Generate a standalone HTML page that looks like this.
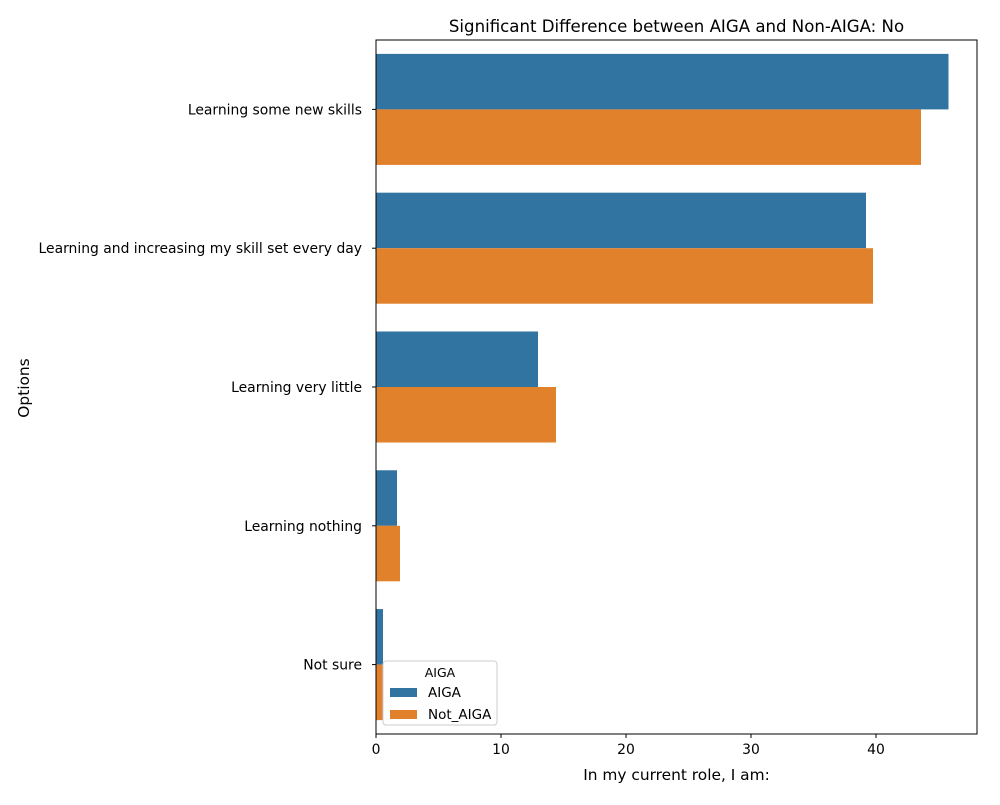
<!DOCTYPE html>
<html><head><meta charset="utf-8"><style>
body{margin:0;background:#fff;font-family:"Liberation Sans","DejaVu Sans",sans-serif}
text{font-family:"DejaVu Sans","Liberation Sans",sans-serif}
</style></head><body>
<svg id="chart" width="1000" height="800" xmlns="http://www.w3.org/2000/svg">
<rect width="1000" height="800" fill="#fff"/>
<g id="plot"></g>
</svg>
<script>
const categories=["Learning some new skills","Learning and increasing my skill set every day","Learning very little","Learning nothing","Not sure"];
const aigaValues=[45.8,39.2,12.96,1.68,0.56];
const notAigaValues=[43.6,39.76,14.4,1.92,0.56];
const xTicks=[0,10,20,30,40];
const L=376,R=977,T=40,B=734,xMax=48.08;
const ns="http://www.w3.org/2000/svg";
const g=document.getElementById('plot');
function x(v){return L+v/xMax*(R-L);}
const band=(B-T)/categories.length;
function yc(i){return T+band*(i+0.5);}
function mk(tag,attrs,txt){const e=document.createElementNS(ns,tag);for(const k in attrs)e.setAttribute(k,attrs[k]);if(txt!==undefined)e.textContent=txt;g.appendChild(e);return e;}
const bw=band*0.4;
categories.forEach((c,i)=>{
 let e=mk('rect',{x:L,y:yc(i)-bw,width:x(aigaValues[i])-L,height:bw,fill:'#3274a1'});
 
 
 e=mk('rect',{x:L,y:yc(i),width:x(notAigaValues[i])-L,height:bw,fill:'#e1812c'});
 
 
 e=mk('line',{x1:L-4,x2:L,y1:yc(i),y2:yc(i),stroke:'#000'});
 
 
 e=mk('text',{x:L-14,y:yc(i)+5,'text-anchor':'end','font-size':'13.9'},c);
 
 
});
xTicks.forEach(t=>{
 let e=mk('line',{x1:x(t),x2:x(t),y1:B,y2:B+4,stroke:'#000'});
 
 
 e=mk('text',{x:x(t),y:B+20,'text-anchor':'middle','font-size':'13.9'},t);
 
 
});
let f=mk('rect',{x:L,y:T,width:R-L,height:B-T,fill:'none',stroke:'#000','stroke-width':1});


let t=mk('text',{x:(L+R)/2,y:32,'text-anchor':'middle','font-size':'16.6'},'Significant Difference between AIGA and Non-AIGA: No');


t=mk('text',{x:(L+R)/2,y:780,'text-anchor':'middle','font-size':'15.4'},'In my current role, I am:');


t=mk('text',{x:29,y:388,'text-anchor':'middle','font-size':'15.4',transform:'rotate(-90 29 388)'},'Options');


let lg=mk('rect',{x:383,y:661,width:114,height:64,rx:3,fill:'#fff','fill-opacity':0.8,stroke:'#ccc'});


t=mk('text',{x:440,y:677,'text-anchor':'middle','font-size':'12.5'},'AIGA');


[['AIGA','#3274a1',692],['Not_AIGA','#e1812c',714]].forEach(([n,c,y])=>{
 let e=mk('rect',{x:390,y:y-4,width:27,height:9,fill:c});
 
 
 e=mk('text',{x:428,y:y+5,'font-size':'13.5'},n);
 
 
});
</script>
</body></html>
